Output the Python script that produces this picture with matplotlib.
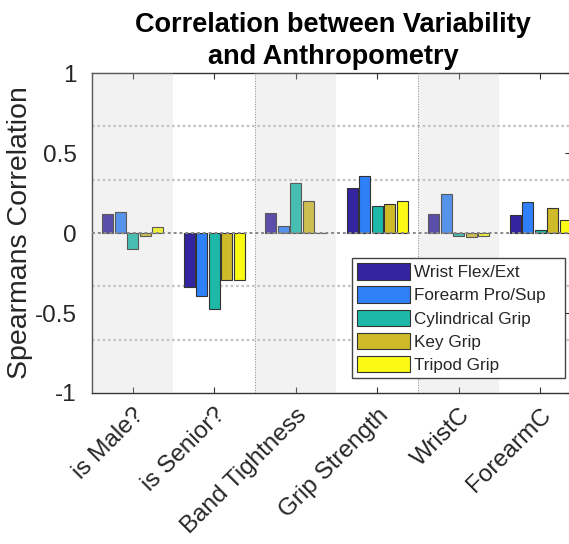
import numpy as np
import matplotlib
matplotlib.use("Agg")
import matplotlib.pyplot as plt
import matplotlib.transforms as mtransforms
from matplotlib.patches import Rectangle

plt.rcParams['font.family'] = ['Liberation Sans', 'DejaVu Sans']

# data
categories = ['is Male?', 'is Senior?', 'Band Tightness', 'Grip Strength', 'WristC', 'ForearmC']
series = ['Wrist Flex/Ext', 'Forearm Pro/Sup', 'Cylindrical Grip', 'Key Grip', 'Tripod Grip']
wrist_flex = [0.12, -0.34, 0.125, 0.28, 0.12, 0.115]
forearm_pro = [0.13, -0.395, 0.047, 0.355, 0.246, 0.194]
cylindrical = [-0.097, -0.478, 0.31, 0.17, -0.02, 0.02]
key_grip = [-0.02, -0.296, 0.20, 0.18, -0.027, 0.155]
tripod_grip = [0.035, -0.296, 0.0, 0.198, -0.017, 0.083]
colors = ['#35249f', '#2f80f6', '#1db8a8', '#cfba2a', '#fafa14']

values = [wrist_flex, forearm_pro, cylindrical, key_grip, tripod_grip]
txt = '#262626'

fig = plt.figure(figsize=(5.69, 5.44), dpi=100)
ax = fig.add_axes([0.1617, 0.2776, 0.842, 0.588])

x = np.arange(1, len(categories) + 1)
step = 0.153
width = 0.135
handles = []
for i, (vals, c) in enumerate(zip(values, colors)):
    b = ax.bar(x + (i - 2) * step, vals, width, color=c, edgecolor='#333333',
               linewidth=0.8, zorder=2, label=series[i])
    handles.append(b)

# shaded bands over alternate groups (drawn over the bars, faded)
for k in [1, 3, 5]:
    ax.add_patch(Rectangle((k - 0.5, -1), 1, 2, facecolor='#cccccc', alpha=0.25,
                           edgecolor='none', zorder=3))

for yv in [-2/3, -1/3, 1/3, 2/3]:
    ax.axhline(yv, color='#c4c4c4', lw=1.6, ls=(0, (1.2, 1.2)), zorder=1)
ax.axhline(0, color='#888888', lw=1.4, ls=(0, (1.5, 1.5)), zorder=4)
for xv in [2.5, 4.5]:
    ax.axvline(xv, color='#777777', lw=0.7, ls=':', zorder=1)

ax.set_xlim(0.5, 6.38)
ax.set_ylim(-1, 1)
ax.set_xticks(x)
ax.set_xticklabels(categories, rotation=45, ha='right', rotation_mode='anchor',
                   fontsize=17.5, color=txt)
# matlab puts the rotated labels a bit right of / below the tick
shift = mtransforms.ScaledTranslation(0.14, -0.09, fig.dpi_scale_trans)
for lab in ax.get_xticklabels():
    lab.set_transform(lab.get_transform() + shift)
ax.set_yticks([-1, -0.5, 0, 0.5, 1])
ax.set_yticklabels(['-1', '-0.5', '0', '0.5', '1'], fontsize=17.5, color=txt)
ax.tick_params(axis='x', direction='in', top=True, length=4, color='#333333', pad=8)
ax.tick_params(axis='y', direction='in', left=False, right=True, length=4,
               color='#333333', pad=11)
for s in ax.spines.values():
    s.set_color('#333333')
    s.set_linewidth(1.0)

ax.set_ylabel('Spearmans Correlation', fontsize=20.5, labelpad=1, color=txt)
fig.text(333 / 569, 1 - 32 / 544, 'Correlation between Variability',
         ha='center', va='baseline', fontsize=19.5, fontweight='bold')
fig.text(333 / 569, 1 - 64 / 544, 'and Anthropometry',
         ha='center', va='baseline', fontsize=19.5, fontweight='bold')

# trailing spaces give the matlab-like empty room right of the labels
leg_labels = [s + '   ' for s in series]
leg = ax.legend(handles, leg_labels, loc='lower right', bbox_to_anchor=(0.987, 0.047),
                fontsize=12.3, handlelength=3.1, handleheight=1.1, handletextpad=0.25,
                labelspacing=0.36, borderpad=0.3, fancybox=False, framealpha=1,
                edgecolor='#444444', borderaxespad=0)
leg.set_zorder(6)
for t in leg.get_texts():
    t.set_color(txt)

fig.savefig('out.png', dpi=100)
